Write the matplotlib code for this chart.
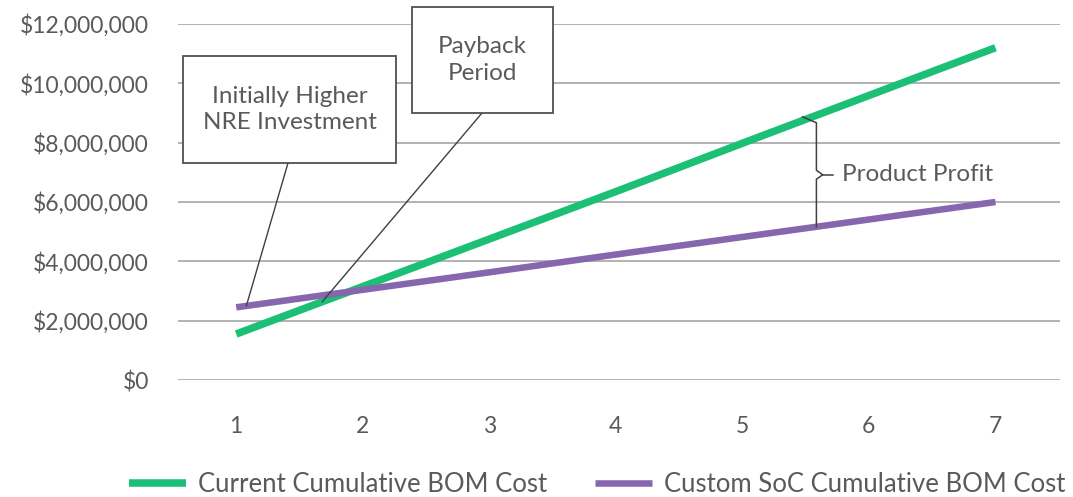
import numpy as np
import matplotlib
matplotlib.use('Agg')
import matplotlib.pyplot as plt
from matplotlib.patches import Rectangle

# years and cumulative bill-of-materials cost (USD)
years = [1, 2, 3, 4, 5, 6, 7]
current_bom = [1550000, 3150000, 4750000, 6350000, 7980000, 9590000, 11200000]
custom_soc_bom = [2450000, 3040000, 3630000, 4230000, 4820000, 5410000, 6000000]
series_names = ['Current Cumulative BOM Cost', 'Custom SoC Cumulative BOM Cost']
yticks = [0, 2000000, 4000000, 6000000, 8000000, 10000000, 12000000]

GREEN = '#1bbf76'
PURPLE = '#8666ad'
TEXT = '#5a5a5a'
W, H = 1073, 497
FS = 17.5

plt.rcParams['font.family'] = ['Lato', 'DejaVu Sans']

fig = plt.figure(figsize=(W / 100, H / 100), dpi=100)
ax = fig.add_axes([178 / W, (H - 380) / H, (1060 - 178) / W, 356 / H])


def px(x, y):
    # pixel position (top-left origin) -> figure fraction
    return x / W, 1 - y / H


ax.plot(years, current_bom, color=GREEN, lw=5.4, solid_capstyle='butt',
        label=series_names[0], zorder=3)
ax.plot(years, custom_soc_bom, color=PURPLE, lw=4.7, solid_capstyle='butt',
        label=series_names[1], zorder=3)

ax.set_xlim(0.54, 7.51)
ax.set_ylim(0, 12000000)
ax.set_xticks(years)
ax.set_yticks(yticks)
ax.set_yticklabels(['${:,.0f}'.format(v) for v in yticks])
ax.tick_params(length=0, labelsize=16.5, labelcolor=TEXT)
ax.tick_params(axis='y', pad=21)
ax.tick_params(axis='x', pad=26)
ax.grid(axis='y', color='#a6a6a6', lw=1.2)
ax.set_axisbelow(True)
for s in ax.spines.values():
    s.set_visible(False)

# callout boxes
boxes = [
    (183, 56, 396, 163, 'Initially Higher\nNRE Investment'),
    (412, 7, 553, 113, 'Payback\nPeriod'),
]
for x0, y0, x1, y1, label in boxes:
    fx0, fy1 = px(x0, y1)
    fx1, fy0 = px(x1, y0)
    fig.patches.append(Rectangle((fx0, fy1), fx1 - fx0, fy0 - fy1, transform=fig.transFigure,
                                 facecolor='white', edgecolor='#505050', lw=1.3, zorder=5))
    cx, cy = px((x0 + x1) / 2, (y0 + y1) / 2)
    fig.text(cx, cy, label, ha='center', va='center', fontsize=FS, color=TEXT,
             linespacing=1.3, zorder=6)

# leader lines from the boxes down to the curves
nre_x = 1.08
ax.annotate('', xy=(nre_x, np.interp(nre_x, years, custom_soc_bom)),
            xytext=(288, H - 163), textcoords='figure pixels',
            arrowprops=dict(arrowstyle='-', color='#404040', lw=1.0, shrinkA=0, shrinkB=0))
pay_x = 1.68
ax.annotate('', xy=(pay_x, np.interp(pay_x, years, current_bom)),
            xytext=(482, H - 113), textcoords='figure pixels',
            arrowprops=dict(arrowstyle='-', color='#404040', lw=1.0, shrinkA=0, shrinkB=0))

# brace between the two curves
xb = 5.585
ytop = np.interp(xb, years, current_bom) - 250000
ybot = np.interp(xb, years, custom_soc_bom)
ymid = (ytop + ybot) / 2
dx = 0.11
dy = 150000
bx = [xb - dx, xb, xb, xb + 0.05, xb, xb]
by = [ytop + 200000, ytop, ymid + dy, ymid, ymid - dy, ybot]
ax.plot(bx, by, color='#404040', lw=1.1, zorder=4)
ax.plot([xb + 0.05, xb + 0.135], [ymid, ymid], color='#404040', lw=1.1, zorder=4)
ax.text(xb + 0.205, ymid, 'Product Profit', ha='left', va='center', fontsize=FS, color=TEXT)

fig.legend(loc='center', bbox_to_anchor=(597 / W, 13 / H), ncol=2, frameon=False,
           fontsize=18.5, handlelength=2.25, handletextpad=0.45, columnspacing=1.85,
           labelcolor=TEXT)

fig.savefig('out.png', dpi=100)
